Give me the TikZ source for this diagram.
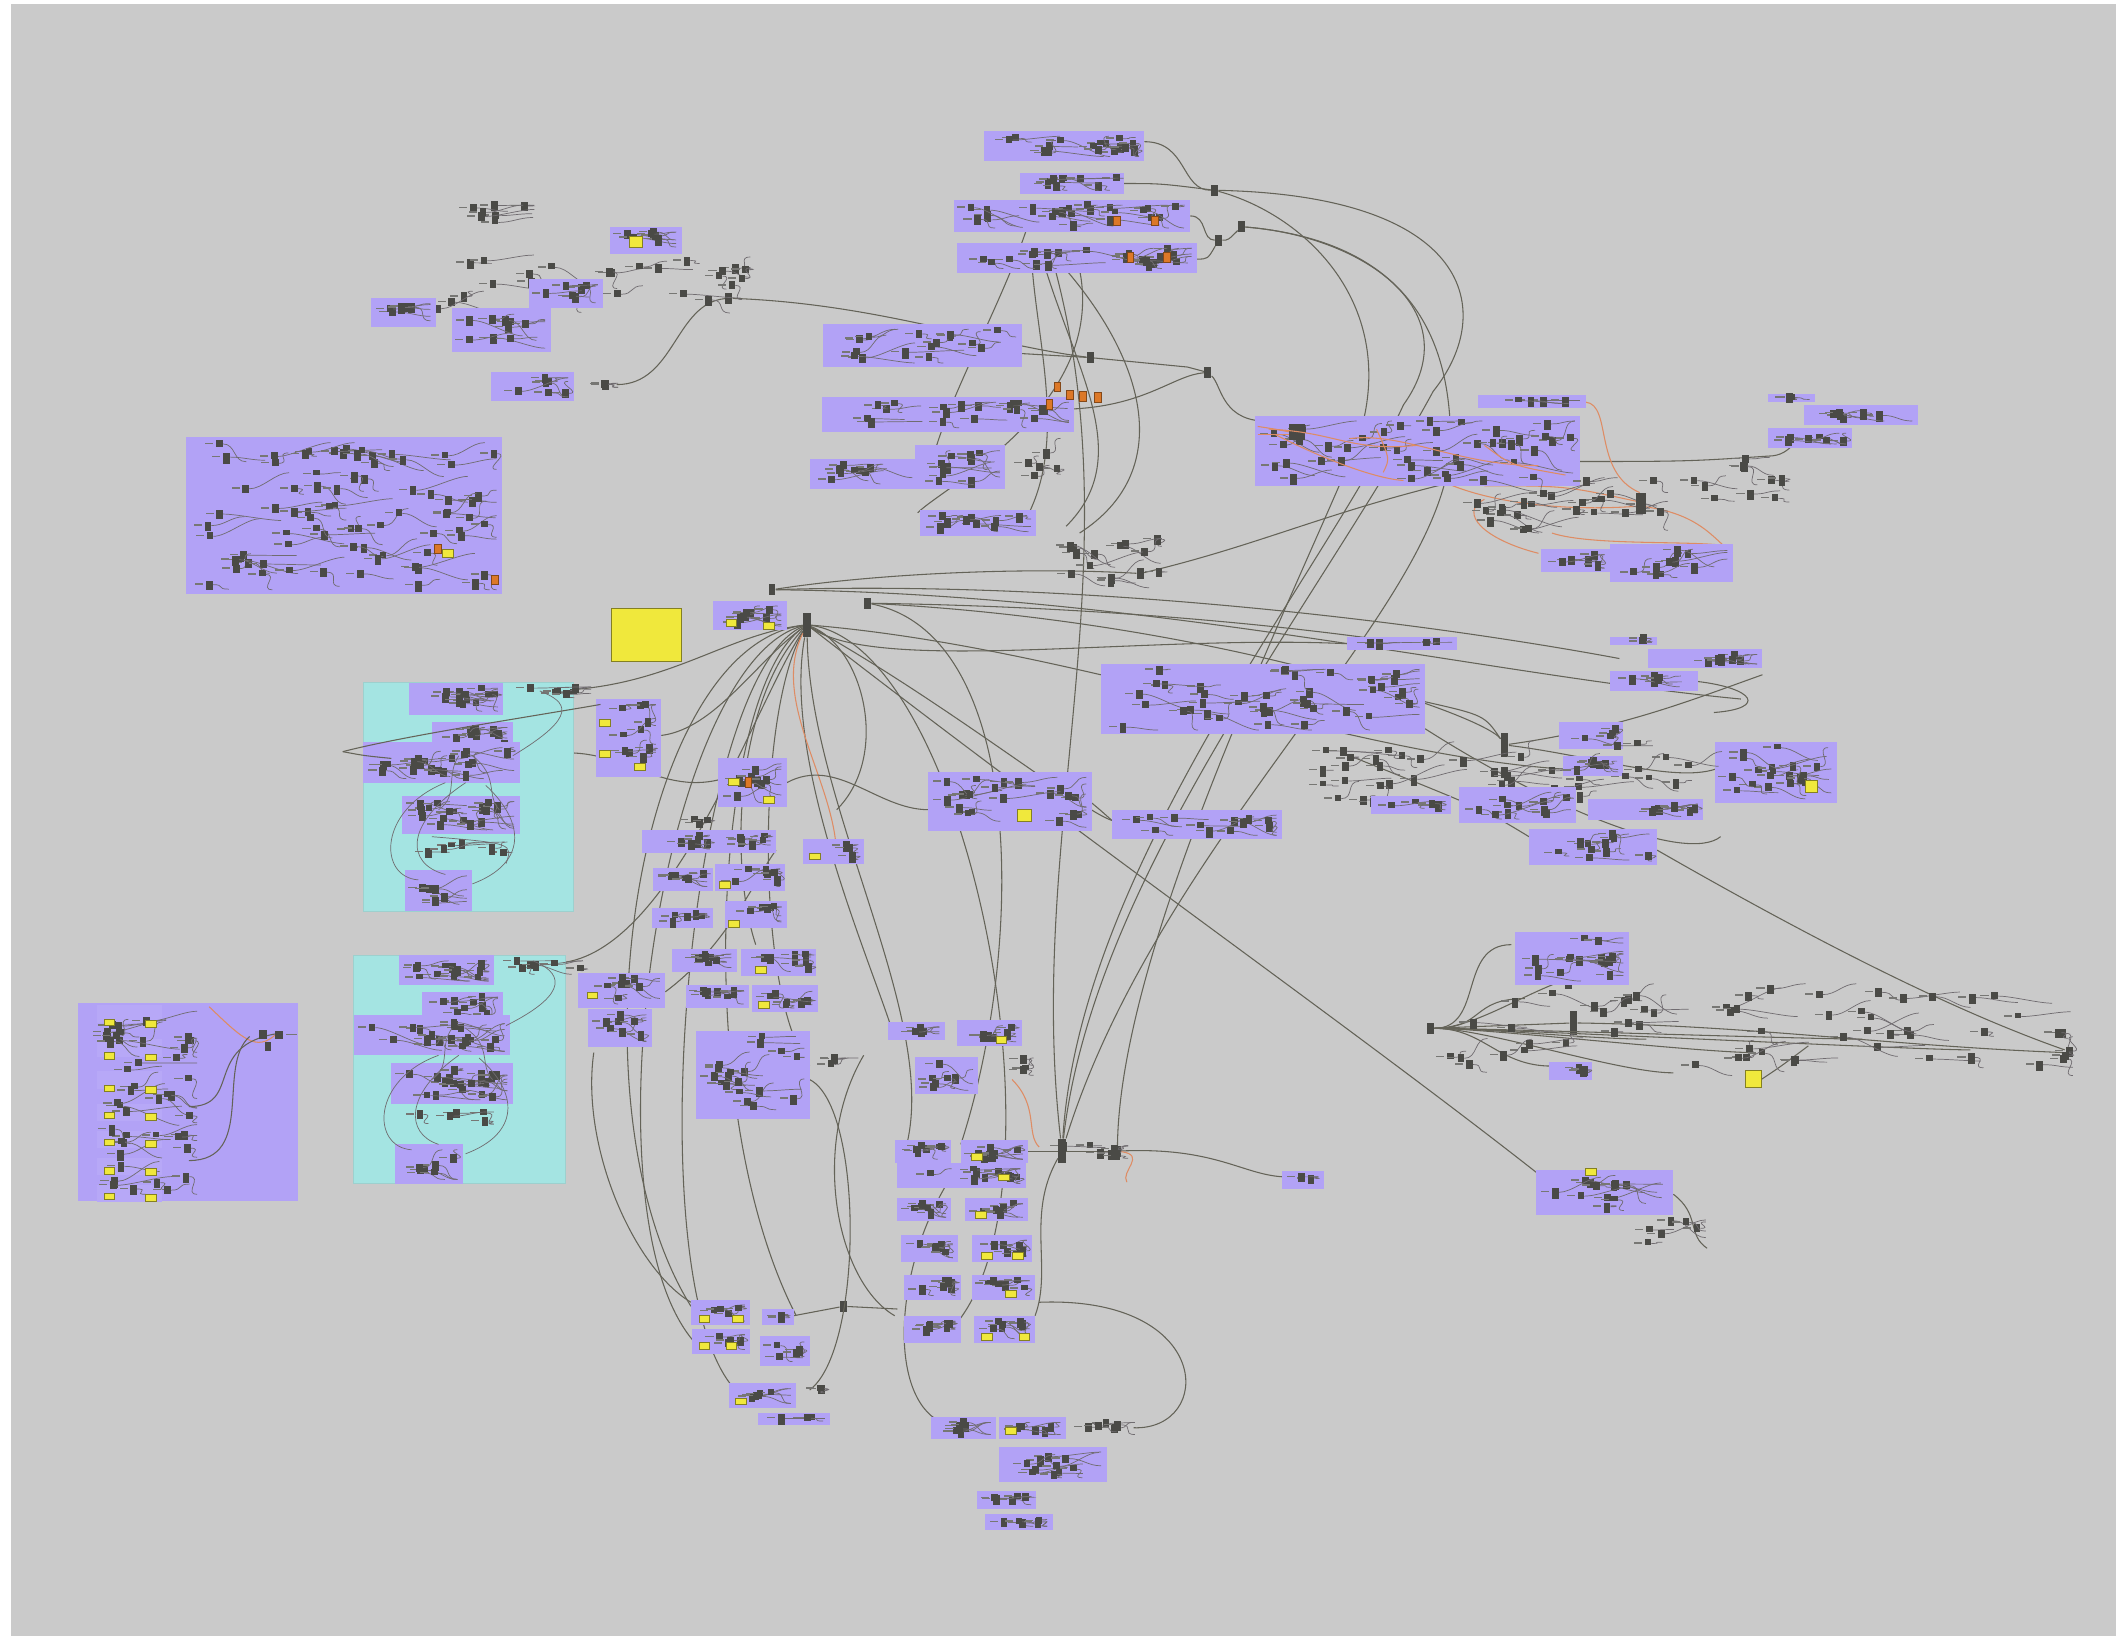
\documentclass[tikz,border=0pt]{standalone}
\definecolor{bg}{RGB}{202,202,202}
\definecolor{gp}{RGB}{178,162,246}
\definecolor{gc}{RGB}{164,228,226}
\definecolor{gy}{RGB}{240,232,60}
\definecolor{wr}{RGB}{100,99,88}
\definecolor{wo}{RGB}{222,140,100}
\definecolor{cm}{RGB}{74,74,70}
\definecolor{or}{RGB}{220,120,40}
\tikzset{
  wire/.style={draw=wr,line width=0.45pt},
  owire/.style={draw=wo,line width=0.45pt},
  iwire/.style={draw=wr!85!gp,line width=0.3pt},
  comp/.style={fill=cm},
  lbl/.style={fill=cm!75!white},
  gfill/.style={fill=gp},
  cfill/.style={fill=gc,draw=gc!80!gray,line width=0.3pt},
  ypanel/.style={fill=gy,draw=gy!55!black,line width=0.3pt},
  hubn/.style={rectangle,fill=cm,inner sep=0pt,minimum width=1mm,minimum height=1.6mm},
  hubbar/.style={rectangle,fill=cm,inner sep=0pt,minimum width=1.1mm,minimum height=3.6mm},
}
\newcommand\gscat[5]{%
  \foreach \k in {1,...,#5}{%
    \pgfmathsetmacro\gx{#1+10+rnd*(#3-#1-18)}%
    \pgfmathsetmacro\gy{#2+1+rnd*(#4-#2-9)}%
    \pgfmathsetmacro\hx{min(#3-4,\gx+8+rnd*40)}%
    \pgfmathsetmacro\hy{max(#2+1,min(#4-6,\gy+(rnd-0.5)*30))}%
    \pgfmathsetmacro\gh{4+4*rnd}%
    \draw[iwire] (\gx+5,\gy+3) .. controls +(10,0) and +(-10,0) .. (\hx,\hy+3);%
    \fill[comp] (\gx,\gy) rectangle +(5,\gh);%
    \fill[lbl] (\gx-8,\gy+2) rectangle +(6,1.1);%
  }%
}
\newcommand\ggrp[5]{\fill[gfill] (#1,#2) rectangle (#3,#4);\gscat{#1}{#2}{#3}{#4}{#5}}
\newcommand\ypan[2]{\fill[ypanel] (#1,#2) rectangle +(8,5);}
\newcommand\opan[2]{\fill[fill=or,draw=or!60!black,line width=0.2pt] (#1,#2) rectangle +(5,7);}
\begin{document}
\begin{tikzpicture}[x=0.02cm,y=-0.02cm]
\pgfmathsetseed{7}
\useasboundingbox (0,0) rectangle (1568,1212);
\fill[white] (0,0) rectangle (1568,1212);
\fill[bg] (8,3) rectangle (1568,1212);

% ---------- hub nodes ----------
\node[hubbar] (hA) at (598,463) {};
\node[hubn] (hB) at (643,447) {};
\node[hubn] (hC) at (900,141) {};
\node[hubn] (hD) at (920,168) {};
\node[hubn] (hE) at (903,178) {};
\node[hubn] (hF) at (895,276) {};
\node[hubn] (hG) at (808,265) {};
\node[hubbar] (hH) at (1148,342) {};
\node[hubbar] (hI) at (787,853) {};
\node[hubn] (hJ) at (828,853) {};
\node[hubbar] (hK) at (1115,552) {};
\node[hubn] (hL) at (1060,762) {};
\node[hubbar] (hM) at (1166,758) {};
\node[hubn] (hN) at (625,968) {};
\node[hubn] (h0) at (572,437) {};
\node[hubn] (tl1) at (540,221) {};
\node[hubn] (ct1) at (845,425) {};
\coordinate (g1e) at (848,105);
\coordinate (g2e) at (833,136);
\coordinate (g3e) at (882,160);
\coordinate (g4e) at (887,192);
\coordinate (g5e) at (757,262);
\coordinate (g6e) at (796,303);
\coordinate (rg) at (935,312);
\coordinate (rr1) at (1310,338);
\coordinate (rr2) at (1345,318);
\coordinate (b1) at (512,968);
\coordinate (b2) at (515,995);
\coordinate (b3) at (545,1030);
\coordinate (b4) at (590,975);
\coordinate (b5) at (560,700);
\coordinate (b6) at (600,790);
\coordinate (b7) at (660,760);
\coordinate (b8) at (670,855);
\coordinate (b9) at (620,636);
\coordinate (b10) at (712,848);
\coordinate (b11) at (700,990);
\coordinate (r1) at (1200,488);
\coordinate (r2) at (1290,518);
\coordinate (r3) at (1050,478);
\coordinate (r4) at (1160,570);
\coordinate (r5) at (1140,870);
\coordinate (r6) at (824,608);
\coordinate (r7) at (998,477);
\coordinate (c1) at (425,511);
\coordinate (c2) at (419,713);
\coordinate (c3) at (490,545);
\coordinate (c4) at (254,557);
\coordinate (c5) at (445,522);
\coordinate (m1) at (688,600);
\coordinate (m2) at (809,595);
\coordinate (s1) at (950,872);
\coordinate (s2) at (770,965);
\coordinate (s3) at (840,1058);
\coordinate (s4) at (700,880);
\coordinate (s5) at (700,1055);
\coordinate (s6) at (665,970);
\coordinate (s7) at (640,782);
\coordinate (s8) at (663,975);
\coordinate (tl0) at (457,285);

% ---------- long wires ----------
\draw[wire] (g1e) .. controls (880,105) and (875,141) .. (hC);
\draw[wire] (g2e) .. controls (860,136) .. (hC);
\draw[wire] (g3e) .. controls (895,160) and (890,178) .. (hE);
\draw[wire] (g4e) .. controls (895,192) .. (hE);
\draw[wire] (hE) .. controls (910,178) .. (hD);
\draw[wire] (hC) .. controls (1090,145) and (1110,230) .. (1062,290) .. controls (975,450) and (810,650) .. (hI);
\draw[wire] (hD) .. controls (1010,175) and (1090,230) .. (1040,300) .. controls (985,420) and (800,640) .. (hI);
\draw[wire] (hC) .. controls (970,160) and (1040,230) .. (1005,330) .. controls (960,440) and (830,700) .. (hJ);
\draw[wire] (hD) .. controls (1060,180) and (1075,270) .. (1075,330) .. controls (1070,450) and (860,620) .. (hI);
\draw[wire] (tl0) .. controls (500,285) and (500,225) .. (tl1);
\draw[wire] (tl1) .. controls (650,225) and (730,255) .. (hG);
\draw[wire] (g5e) -- (hG);
\draw[wire] (hG) -- (880,272) -- (hF);
\draw[wire] (g6e) .. controls (850,300) and (870,278) .. (hF);
\draw[wire] (hF) .. controls (905,285) and (905,310) .. (rg);
\draw[wire] (765,200) .. controls (770,260) and (790,330) .. (760,385);
\draw[wire] (775,200) .. controls (800,280) and (840,340) .. (790,390);
\draw[wire] (790,200) .. controls (850,270) and (870,350) .. (800,395);
\draw[wire] (760,172) .. controls (740,230) and (700,300) .. (690,345);
\draw[wire] (800,200) .. controls (820,300) and (700,360) .. (680,380);
\draw[wire] (782,200) .. controls (840,420) and (760,620) .. (hI);
\draw[wire] (hH) .. controls (1250,342) .. (rr1);
\draw[wire] (rr1) .. controls (1330,338) and (1330,320) .. (rr2);
\draw[wire] (ct1) .. controls (950,400) and (1000,370) .. (hH);
\draw[owire] (1060,352) .. controls (1090,370) and (1150,380) .. (1215,375);
\draw[owire] (1175,298) .. controls (1195,300) and (1180,350) .. (1215,365);
\draw[owire] (1150,395) .. controls (1180,405) and (1260,400) .. (1282,405);
\draw[owire] (1100,360) .. controls (1160,360) .. (1215,372);
\draw[owire] (1215,375) .. controls (1260,380) and (1270,400) .. (1284,410);
\draw[owire] (1140,410) .. controls (1100,400) and (1080,380) .. (1100,370);
% hub A fan
\draw[wire] (hA) .. controls (470,480) and (420,820) .. (b1);
\draw[wire] (hA) .. controls (490,490) and (430,900) .. (b2);
\draw[wire] (hA) .. controls (510,500) and (470,950) .. (b3);
\draw[wire] (hA) .. controls (530,510) and (510,820) .. (b4);
\draw[wire] (hA) .. controls (545,520) and (540,640) .. (b5);
\draw[wire] (hA) .. controls (560,530) and (560,740) .. (b6);
\draw[wire] (hA) .. controls (580,560) and (640,700) .. (b7);
\draw[wire] (hA) .. controls (600,600) and (700,760) .. (b8);
\draw[owire] (hA) .. controls (570,520) and (620,580) .. (b9);
\draw[wire] (hB) .. controls (760,470) and (760,700) .. (b10);
\draw[wire] (hA) .. controls (720,480) and (800,900) .. (b11);
\draw[wire] (hA) .. controls (640,480) and (660,560) .. (620,600);
\draw[wire] (h0) .. controls (800,430) and (1050,460) .. (r1);
\draw[wire] (h0) .. controls (850,440) and (1100,500) .. (r2);
\draw[wire] (hB) .. controls (850,450) and (1000,470) .. (r3);
\draw[wire] (hB) .. controls (900,460) and (1100,530) .. (hK);
\draw[wire] (hA) .. controls (800,480) and (1000,560) .. (r4);
\draw[wire] (hA) .. controls (800,620) and (1000,760) .. (r5);
\draw[wire] (hA) .. controls (700,520) and (800,600) .. (r6);
\draw[wire] (hA) .. controls (650,500) and (850,470) .. (r7);
\draw[wire] (h0) .. controls (650,425) and (760,420) .. (ct1);
\draw[wire] (c1) .. controls (500,505) and (540,470) .. (hA);
\draw[wire] (c2) .. controls (500,700) and (560,520) .. (hA);
\draw[wire] (c3) .. controls (530,540) and (560,490) .. (hA);
\draw[wire] (385,565) .. controls (450,540) and (480,590) .. (532,578);
\draw[wire] (583,580) .. controls (620,560) and (650,600) .. (m1);
\draw[wire] (m2) .. controls (815,600) .. (r6);
\draw[wire] (493,735) .. controls (540,700) and (560,650) .. (575,630);
% bottom centre
\draw[wire] (762,853) -- (hI) -- (hJ);
\draw[wire] (hJ) .. controls (900,850) and (920,870) .. (s1);
\draw[owire] (hJ) .. controls (850,856) and (830,868) .. (835,876);
\draw[owire] (750,800) .. controls (770,820) and (760,840) .. (770,850);
\draw[wire] (s2) .. controls (900,960) and (900,1060) .. (s3);
\draw[wire] (s7) .. controls (600,850) and (620,950) .. (s8);
\draw[wire] (s4) .. controls (660,950) and (660,1040) .. (s5);
\draw[wire] (588,975) -- (hN) -- (s6);
\draw[wire] (hI) .. controls (760,900) and (780,940) .. (767,975);
\draw[wire] (600,800) .. controls (640,820) and (640,1000) .. (600,1030);
\draw[wire] (440,780) .. controls (430,850) and (470,940) .. (512,965);
% right clusters
\draw[wire] (1056,520) .. controls (1100,530) .. (hK);
\draw[wire] (hK) .. controls (1200,540) and (1250,520) .. (1306,500);
\draw[wire] (1000,560) .. controls (1100,600) .. (1133,620);
\draw[wire] (hK) .. controls (1180,560) and (1240,580) .. (1271,570);
\draw[wire] (1258,505) .. controls (1300,510) and (1310,525) .. (1270,528);
\draw[wire] (1056,540) .. controls (1150,600) and (1250,640) .. (1275,620);
\draw[wire] (1228,630) .. controls (1350,700) and (1450,750) .. (1530,778);
\foreach \ex/\ey in {1120/700,1130/740,1220/770,1300/780,1380/770,1460/778,1240/795,1150/790,1190/720}{
  \draw[wire] (hL) .. controls (1100,762) and (\ex-40,\ey) .. (\ex,\ey);
}
\draw[wire] (hL) -- (hM);
\draw[wire] (hM) .. controls (1300,760) and (1400,775) .. (1530,780);
\draw[wire] (1305,800) .. controls (1320,790) .. (1340,775);
\draw[wire] (1240,885) .. controls (1260,900) and (1250,915) .. (1265,925);

% ---------- top centre groups ----------
\ggrp{729}{97}{848}{119}{16}
\ggrp{756}{128}{833}{144}{9}
\ggrp{707}{148}{882}{172}{22}
\ggrp{709}{180}{887}{202}{22}
\opan{825}{160}\opan{853}{160}\opan{835}{187}\opan{862}{187}
\ggrp{610}{240}{757}{272}{16}
\ggrp{609}{294}{796}{320}{18}
\ggrp{600}{340}{680}{362}{8}
\ggrp{678}{330}{745}{362}{10}
\ggrp{682}{378}{768}{397}{9}
\opan{781}{283}\opan{790}{289}\opan{800}{290}\opan{811}{291}\opan{775}{296}
\gscat{740}{320}{790}{360}{5}
\gscat{780}{395}{865}{440}{14}

% ---------- top left ----------
\gscat{300}{185}{560}{235}{28}
\gscat{320}{148}{400}{170}{7}
\ggrp{452}{168}{505}{188}{6}
\fill[ypanel] (466,175) rectangle (476,183);
\ggrp{275}{221}{323}{242}{5}
\ggrp{392}{207}{447}{228}{6}
\ggrp{335}{228}{408}{261}{9}
\ggrp{364}{276}{425}{297}{6}
\gscat{425}{280}{462}{290}{3}

% ---------- big left ----------
\ggrp{138}{324}{372}{440}{75}
\fill[ypanel] (328,407) rectangle (336,413);
\opan{364}{426}\opan{322}{403}

% big yellow panel
\fill[ypanel] (453,451) rectangle (505,490);

% ---------- cyan groups ----------
\fill[cfill] (269,506) rectangle (425,675);
\ggrp{303}{506}{373}{530}{12}
\ggrp{320}{535}{380}{558}{8}
\ggrp{269}{550}{385}{580}{18}
\ggrp{298}{590}{385}{618}{18}
\ggrp{300}{645}{350}{675}{6}
\gscat{380}{505}{442}{520}{6}
\gscat{300}{620}{380}{640}{6}
\fill[cfill] (262,708) rectangle (419,877);
\ggrp{296}{708}{366}{730}{12}
\ggrp{313}{735}{373}{760}{8}
\ggrp{262}{752}{378}{782}{18}
\ggrp{290}{788}{380}{818}{18}
\ggrp{293}{848}{343}{877}{6}
\gscat{370}{708}{436}{725}{6}
\gscat{295}{820}{370}{836}{5}
\ggrp{442}{518}{490}{576}{10}
\ypan{444}{533}\ypan{444}{556}\ypan{470}{566}
% wires over the cyan groups
\draw[wire] (c4) .. controls (300,545) and (400,530) .. (c5);
\draw[wire] (c4) .. controls (270,560) .. (290,562);
\draw[iwire] (330,580) .. controls (280,600) and (280,650) .. (310,652);
\draw[iwire] (345,580) .. controls (300,610) and (300,640) .. (330,648);
\draw[iwire] (360,582) .. controls (390,610) and (390,640) .. (350,655);
\draw[iwire] (320,620) .. controls (380,625) .. (375,640);
\draw[iwire] (380,560) .. controls (430,530) and (420,520) .. (400,512);
\draw[iwire] (340,560) .. controls (330,575) and (340,590) .. (325,600);
\draw[iwire] (350,560) .. controls (370,575) and (360,590) .. (370,600);
\draw[iwire] (325,782) .. controls (275,800) and (275,850) .. (305,852);
\draw[iwire] (340,782) .. controls (300,810) and (300,840) .. (325,848);
\draw[iwire] (355,784) .. controls (385,810) and (385,840) .. (345,855);
\draw[iwire] (375,760) .. controls (425,735) and (415,720) .. (395,712);
\draw[iwire] (335,762) .. controls (325,775) and (335,790) .. (320,800);
\draw[iwire] (345,762) .. controls (365,775) and (355,790) .. (365,800);

% ---------- big left bottom ----------
\fill[gfill] (58,743) rectangle (221,890);
\foreach \ry in {747,772,796,820,840,860,880}{\fill[gp!94!white] (72,\ry-2) rectangle (120,\ry+11);}
\gscat{62}{745}{150}{888}{42}
\foreach \ry in {755,780,804,824,844,865,884}{\ypan{77}{\ry}\ypan{108}{\ry+1}}
\draw[owire] (155,746) .. controls (180,770) and (190,780) .. (205,766);
\draw[wire] (140,820) .. controls (180,820) and (150,775) .. (205,766);
\draw[wire] (140,860) .. controls (190,860) and (160,790) .. (185,768);
\fill[comp] (192,763) rectangle +(6,7);\fill[comp] (204,764) rectangle +(6,6);\fill[comp] (196,772) rectangle +(5,7);\fill[lbl] (212,766) rectangle +(8,1.2);

% ---------- middle column ----------
\ggrp{528}{445}{583}{467}{8}
\ypan{538}{459}\ypan{566}{461}
\ggrp{532}{562}{583}{598}{8}
\ypan{540}{577}\ypan{566}{590}\opan{552}{576}
\ggrp{476}{615}{530}{632}{6}
\ggrp{530}{615}{575}{632}{6}
\ggrp{595}{622}{640}{640}{3}
\ypan{600}{632}
\ggrp{484}{643}{528}{660}{6}
\ggrp{530}{640}{582}{660}{6}
\ypan{533}{653}
\ggrp{483}{673}{528}{688}{5}
\ggrp{537}{668}{583}{688}{6}
\ypan{540}{682}
\ggrp{498}{703}{546}{720}{6}
\ggrp{549}{703}{605}{723}{7}
\ypan{560}{716}
\ggrp{508}{730}{555}{747}{6}
\ggrp{557}{730}{606}{750}{6}
\ypan{562}{742}
\ggrp{428}{721}{493}{747}{8}
\ypan{435}{735}
\ggrp{436}{748}{483}{776}{7}
\ggrp{516}{764}{600}{829}{18}
\gscat{600}{780}{640}{795}{3}
\ggrp{688}{572}{809}{616}{20}
\fill[ypanel] (754,600) rectangle (764,609);
\ggrp{824}{600}{950}{622}{12}
\gscat{500}{603}{530}{615}{3}

% ---------- bottom centre ----------
\ggrp{658}{757}{700}{771}{5}
\ggrp{709}{756}{757}{775}{6}
\ypan{738}{768}
\ggrp{678}{783}{725}{811}{6}
\gscat{740}{780}{770}{800}{3}
\ggrp{663}{845}{705}{862}{6}
\ggrp{712}{845}{762}{862}{7}
\ggrp{665}{862}{760}{880}{10}
\ypan{720}{855}\ypan{740}{870}
\ggrp{665}{888}{705}{905}{6}
\ggrp{715}{888}{762}{905}{6}
\ypan{723}{898}
\ggrp{668}{915}{710}{935}{6}
\ggrp{720}{915}{765}{935}{6}
\ypan{727}{928}\ypan{750}{928}
\ggrp{670}{945}{712}{963}{6}
\ggrp{720}{945}{767}{963}{6}
\ypan{745}{956}
\ggrp{670}{975}{712}{995}{6}
\ggrp{722}{975}{767}{995}{6}
\ypan{727}{988}\ypan{755}{988}
\gscat{765}{845}{840}{862}{6}
\ggrp{512}{963}{556}{982}{4}
\ypan{518}{975}\ypan{543}{975}
\ggrp{565}{970}{588}{982}{2}
\ggrp{513}{985}{556}{1003}{4}
\ypan{518}{995}\ypan{538}{995}
\ggrp{563}{990}{600}{1012}{4}
\ggrp{540}{1025}{590}{1043}{5}
\ypan{545}{1036}
\ggrp{562}{1047}{615}{1056}{3}
\gscat{590}{1025}{615}{1035}{2}
\ggrp{690}{1050}{738}{1066}{6}
\ggrp{740}{1050}{790}{1066}{6}
\ypan{745}{1058}
\gscat{790}{1050}{845}{1066}{5}
\ggrp{740}{1072}{820}{1098}{10}
\ggrp{724}{1105}{768}{1118}{5}
\ggrp{730}{1122}{780}{1134}{5}
\ggrp{950}{868}{981}{881}{2}

% ---------- right top ----------
\ggrp{930}{308}{1171}{360}{40}
\fill[comp] (955,314) rectangle +(12,12);
\draw[owire] (932,316) .. controls (945,318) .. (955,320);
\draw[owire] (932,322) .. controls (945,322) .. (955,322);
\draw[owire] (940,318) .. controls (990,320) and (1000,335) .. (1050,330);
\draw[owire] (945,322) .. controls (980,340) and (1020,355) .. (1040,356);
\draw[owire] (1000,325) .. controls (1040,320) and (1080,345) .. (1140,345);
\draw[owire] (1020,318) .. controls (1030,340) .. (1025,350);
\draw[owire] (1100,330) .. controls (1120,345) .. (1160,352);
\ggrp{1095}{293}{1175}{302}{4}
\gscat{1060}{350}{1240}{398}{26}
\gscat{1230}{335}{1330}{375}{10}
\ggrp{1310}{292}{1345}{298}{2}
\ggrp{1337}{300}{1421}{315}{7}
\ggrp{1310}{317}{1372}{332}{6}
\ggrp{1142}{407}{1193}{424}{5}
\ggrp{1193}{403}{1284}{431}{9}
\fill[comp] (1212,365) rectangle +(8,16);

% ---------- right middle ----------
\ggrp{816}{492}{1056}{544}{40}
\ggrp{998}{472}{1080}{482}{4}
\ggrp{1193}{472}{1228}{478}{2}
\ggrp{1221}{481}{1306}{495}{7}
\ggrp{1193}{497}{1258}{512}{5}
\ggrp{1155}{535}{1203}{555}{4}
\ggrp{1158}{560}{1203}{575}{4}
\ggrp{1271}{550}{1361}{595}{18}
\fill[ypanel] (1338,578) rectangle (1347,587);
\gscat{960}{545}{1280}{600}{40}
\ggrp{1016}{590}{1075}{603}{5}
\ggrp{1081}{583}{1168}{610}{10}
\ggrp{1177}{592}{1262}{608}{8}
\ggrp{1133}{614}{1228}{641}{10}

% ---------- right bottom ----------
\gscat{1055}{725}{1540}{800}{60}
\ggrp{1123}{691}{1207}{730}{14}
\ggrp{1148}{787}{1180}{800}{3}
\fill[ypanel] (1293,793) rectangle (1305,806);
\ggrp{1138}{867}{1240}{900}{12}
\ypan{1175}{866}
\gscat{1205}{900}{1268}{930}{6}
\end{tikzpicture}
\end{document}
